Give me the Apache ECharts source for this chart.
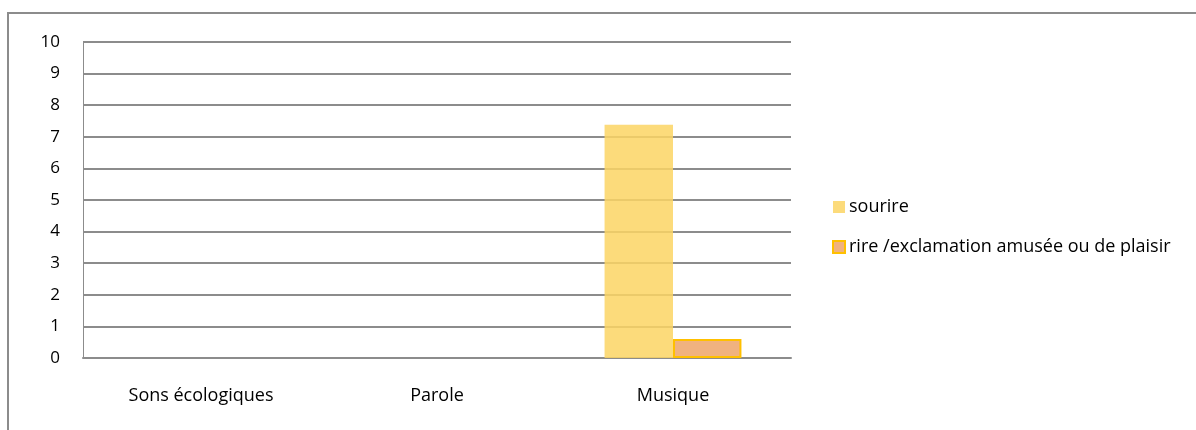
<!DOCTYPE html>
<html><head><meta charset="utf-8">
<script src="https://cdn.jsdelivr.net/npm/echarts@6/dist/echarts.min.js"></script>
<style>html,body{margin:0;padding:0;background:#fff}#c{width:1196px;height:430px}</style>
</head><body><div id="c"></div>
<script>
const categories = ['Sons écologiques', 'Parole', 'Musique'];
const sourire = [0, 0, 7.38];
const rire = [0, 0, 0.6];
const seriesNames = ['sourire', 'rire /exclamation amusée ou de plaisir'];
const FONT = '"Open Sans", "Noto Sans", sans-serif';
const chart = echarts.init(document.getElementById('c'));
const hideZero = v => (v === 0 ? {value: v, itemStyle: {borderWidth: 0, opacity: 0}} : v);
chart.setOption({
  animation: false,
  backgroundColor: '#fff',
  textStyle: {fontFamily: FONT},
  graphic: [{type: 'rect', shape: {x: 8, y: 13, width: 1200, height: 500}, style: {fill: 'none', stroke: '#8c8c8c', lineWidth: 2}, silent: true}],
  grid: {left: 83, right: 405, top: 42, bottom: 72},
  legend: {
    orient: 'vertical', left: 832, top: 198, padding: 0, itemWidth: 12, itemHeight: 12, itemGap: 22,
    textStyle: {fontSize: 18, color: '#000', fontFamily: FONT, padding: [0, 0, 0, -1]},
    data: [{name: seriesNames[0], icon: 'rect'}, {name: seriesNames[1], icon: 'rect'}]
  },
  xAxis: {
    type: 'category', data: categories,
    axisLine: {show: true, lineStyle: {color: '#8c8c8c', width: 2}},
    axisTick: {show: false},
    axisLabel: {fontSize: 18, color: '#000', margin: 29, fontFamily: FONT}
  },
  yAxis: {
    type: 'value', min: 0, max: 10, interval: 1,
    axisLine: {show: true, lineStyle: {color: '#8c8c8c', width: 1}},
    axisTick: {show: false},
    splitLine: {lineStyle: {color: '#8c8c8c', width: 2}},
    axisLabel: {fontSize: 17, color: '#000', margin: 23, fontFamily: FONT}
  },
  series: [
    {name: seriesNames[0], type: 'bar', data: sourire.map(hideZero), barGap: '0%', barCategoryGap: '42%',
     itemStyle: {color: 'rgba(252,213,100,0.85)'}},
    {name: seriesNames[1], type: 'bar', data: rire.map(hideZero),
     itemStyle: {color: '#F0B27F', borderColor: '#FFC000', borderWidth: 2}}
  ]
});
</script></body></html>
